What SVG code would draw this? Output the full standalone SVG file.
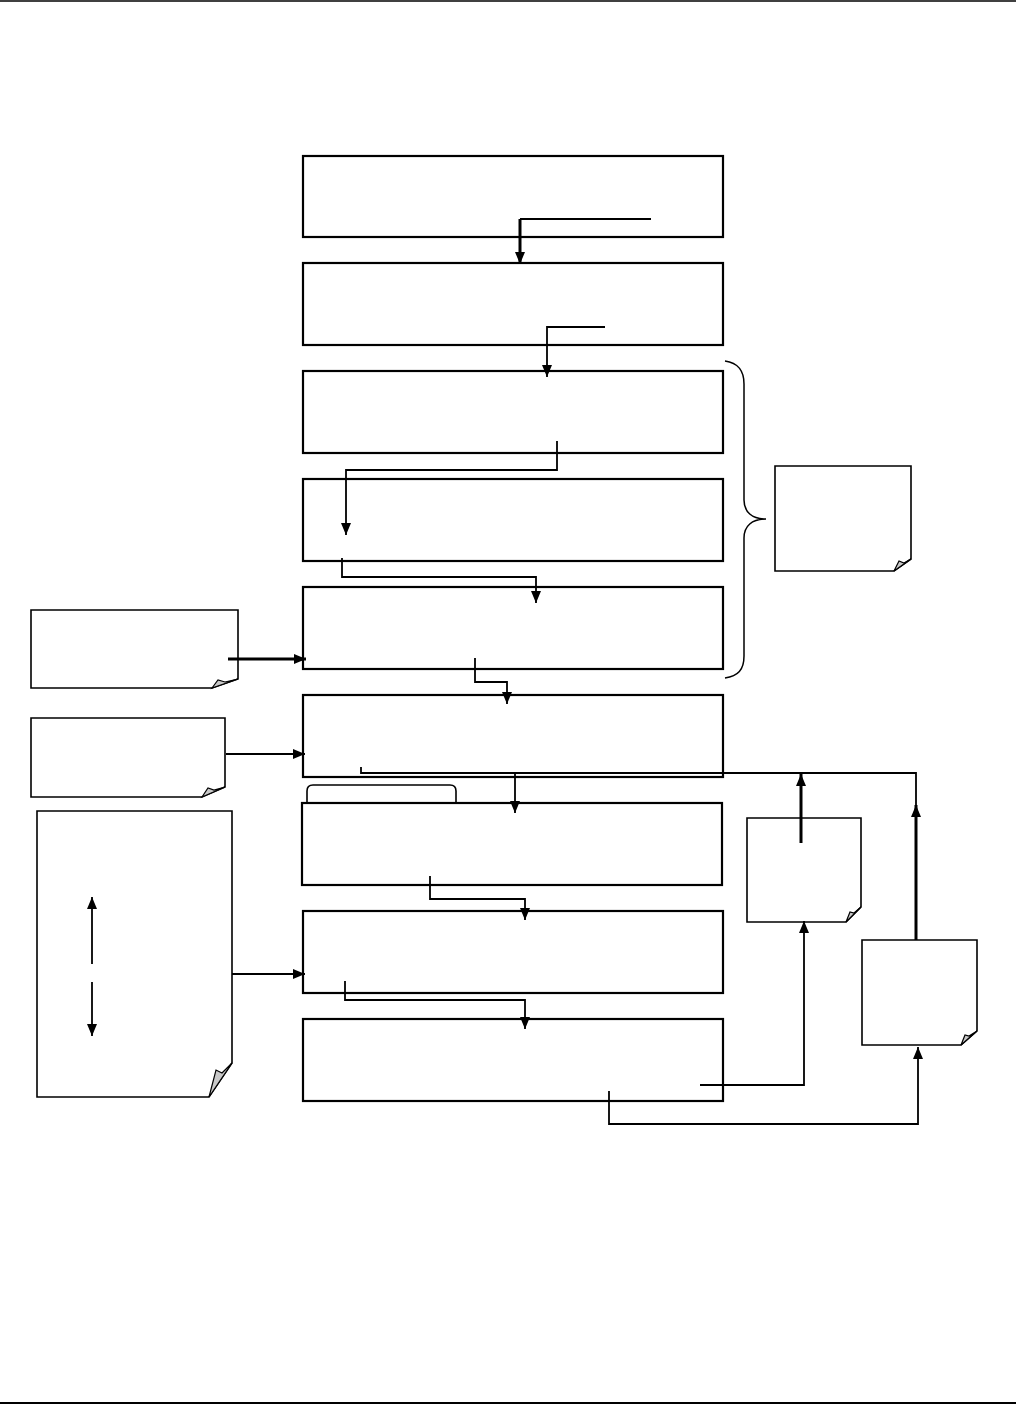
<svg xmlns="http://www.w3.org/2000/svg" width="1016" height="1404" viewBox="0 0 1016 1404">
<style>
.box{fill:#fff;stroke:#000;stroke-width:2.2}
.note{fill:#fff;stroke:#000;stroke-width:1.6}
.fold{fill:#c8c8c8;stroke:#000;stroke-width:1.2}
.c{fill:none;stroke:#000;stroke-width:1.8;marker-end:url(#ah)}
.cn{fill:none;stroke:#000;stroke-width:1.8}
.ct{fill:none;stroke:#000;stroke-width:3;marker-end:url(#ah)}
.rule{stroke:#000;fill:none}
</style>
<defs>
<marker id="ah" viewBox="0 0 12 10" refX="12" refY="5" markerWidth="12" markerHeight="10" markerUnits="userSpaceOnUse" orient="auto">
<path d="M0,0 L12,5 L0,10 z" fill="#000"/>
</marker>
</defs>
<rect width="1016" height="1404" fill="#fff"/>
<line class="rule" x1="0" y1="1" x2="1016" y2="1" stroke-width="1.5"/>
<line class="rule" x1="0" y1="1403" x2="1016" y2="1403" stroke-width="2"/>

<g id="box1"><rect class="box" x="303" y="156" width="420" height="81"/></g>
<g id="box2"><rect class="box" x="303" y="263" width="420" height="82"/></g>
<g id="box3"><rect class="box" x="303" y="371" width="420" height="82"/></g>
<g id="box4"><rect class="box" x="303" y="479" width="420" height="82"/></g>
<g id="box5"><rect class="box" x="303" y="587" width="420" height="82"/></g>
<g id="box6"><rect class="box" x="303" y="695" width="420" height="82"/></g>
<g id="box7">
<path d="M307 803 V791 Q307 785 313 785 H450 Q456 785 456 791 V803" fill="#fff" stroke="#000" stroke-width="1.6"/>
<rect class="box" x="302" y="803" width="420" height="82"/>
</g>
<g id="box8"><rect class="box" x="303" y="911" width="420" height="82"/></g>
<g id="box9"><rect class="box" x="303" y="1019" width="420" height="82"/></g>

<g id="brace">
<path d="M725 361 C738 363 744 370 744 384 V500 C744 512 752 519 766 519 C752 519 744 526 744 538 V656 C744 670 738 676 725 678" fill="none" stroke="#000" stroke-width="1.5"/>
</g>

<g id="noteBrace">
<path class="note" d="M775 466 H911 V559 L894 571 H775 Z"/>
<path class="fold" d="M894 571 L899 561 L904 563 L911 559 Z"/>
</g>
<g id="noteA">
<path class="note" d="M31 610 H238 V679 L212 688 H31 Z"/>
<path class="fold" d="M212 688 L218 680 L225 682 L238 679 Z"/>
</g>
<g id="noteB">
<path class="note" d="M31 718 H225 V787 L202 797 H31 Z"/>
<path class="fold" d="M202 797 L208 788 L214 790 L225 787 Z"/>
</g>
<g id="noteC">
<path class="note" d="M37 811 H232 V1063 L209 1097 H37 Z"/>
<path class="fold" d="M209 1097 L216 1070 L222 1073 L232 1063 Z"/>
<path class="c" d="M92 964 V897"/>
<path class="c" d="M92 982 V1036"/>
</g>
<g id="noteM">
<path class="note" d="M747 818 H861 V907 L846 922 H747 Z"/>
<path class="fold" d="M846 922 L850 912 L854 913 L861 907 Z"/>
</g>
<g id="noteR">
<path class="note" d="M862 940 H977 V1031 L961 1045 H862 Z"/>
<path class="fold" d="M961 1045 L965 1035 L969 1036 L977 1031 Z"/>
</g>

<g id="connectors">
<path class="cn" d="M651 219 H520"/>
<path class="ct" d="M520 219 V264"/>
<path class="c" d="M605 327 H547 V377"/>
<path class="c" d="M557 441 V470 H346 V535"/>
<path class="c" d="M342 558 V577 H536 V603"/>
<path class="c" d="M475 658 V682 H507 V704"/>
<path class="c" d="M361 767 V773 H515 V813"/>
<path class="cn" d="M515 773 H916 V806" stroke-width="1.5"/>
<path class="ct" d="M916 940 V805"/>
<path class="ct" d="M801 843 V774"/>
<path class="c" d="M430 876 V899 H525 V920"/>
<path class="c" d="M345 981 V1000 H525 V1029"/>
<path class="c" d="M700 1085 H804 V921"/>
<path class="c" d="M609 1091 V1124 H918 V1047"/>
<path class="ct" d="M228 659 H306"/>
<path class="c" d="M226 754 H305"/>
<path class="c" d="M232 974 H305"/>
</g>
</svg>
